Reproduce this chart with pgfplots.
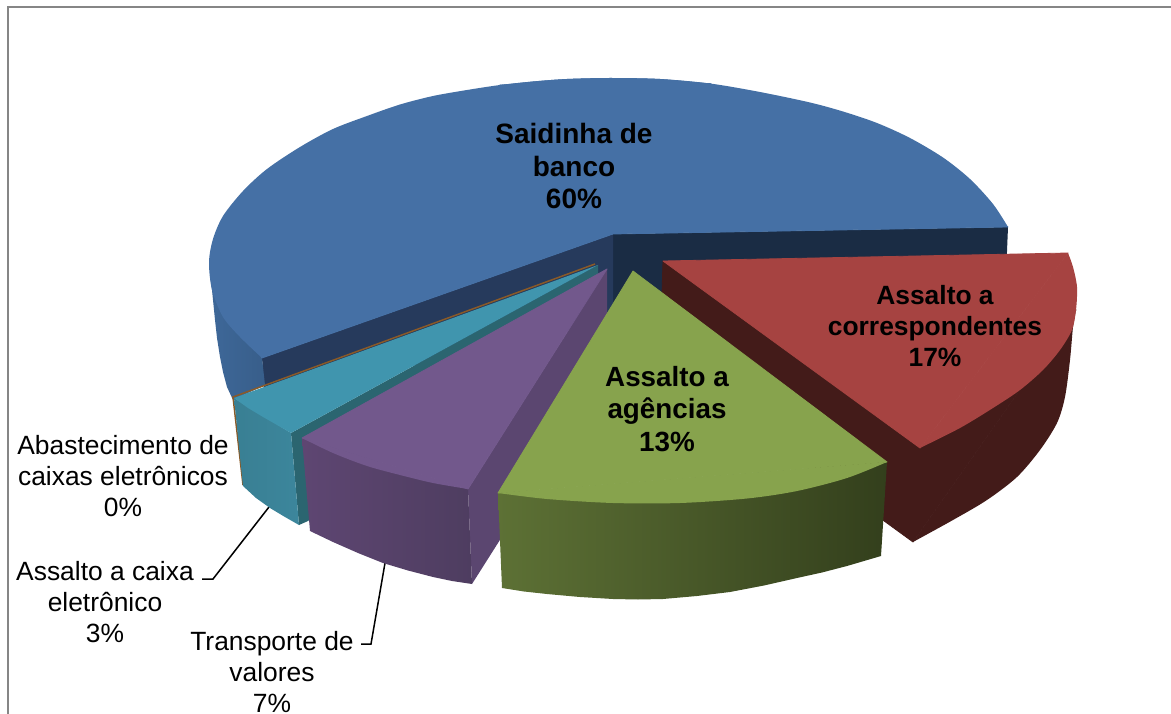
\documentclass[border=0pt]{standalone}
\usepackage{pgfplots}
\pgfplotsset{compat=1.18}
\usepackage{fontspec}
\setmainfont{Liberation Sans}
\definecolor{bluetop}{HTML}{4570A5}
\definecolor{bluedkR}{HTML}{1A2C44}
\definecolor{bluedkL}{HTML}{263A5C}
\definecolor{blueoutL}{HTML}{3E6899}
\definecolor{blueoutR}{HTML}{385E8A}
\definecolor{brownln}{HTML}{8A5A28}
\definecolor{tealtop}{HTML}{4095AE}
\definecolor{tealdk}{HTML}{2B6570}
\definecolor{tealoutL}{HTML}{397F93}
\definecolor{tealoutR}{HTML}{3C869C}
\definecolor{purptop}{HTML}{72588C}
\definecolor{purpdk}{HTML}{5B4670}
\definecolor{purpoutL}{HTML}{5E4672}
\definecolor{purpoutR}{HTML}{4E3D60}
\definecolor{greentop}{HTML}{87A34D}
\definecolor{greenoutL}{HTML}{5D7135}
\definecolor{greenoutR}{HTML}{333F1C}
\definecolor{redtop}{HTML}{A64341}
\definecolor{reddk}{HTML}{431B19}
\definecolor{framec}{HTML}{868686}
\newcommand{\lab}{\fontsize{26.4}{31.2}\selectfont}
\newcommand{\labA}{\fontsize{28}{32.2}\selectfont}
\newcommand{\labB}{\fontsize{27.8}{32.5}\selectfont}
\begin{document}
\begin{tikzpicture}[x=1pt,y=1pt]
\useasboundingbox (0,0) rectangle (1171,714);
\clip (0,0) rectangle (1171,714);
\begin{axis}[
  at={(0,0)},anchor=south west,
  scale only axis,width=1171pt,height=714pt,
  xmin=0,xmax=1171,ymin=0,ymax=714,y dir=reverse,
  hide axis,clip=true]
% frame
\addplot[framec,line width=2pt] coordinates {(8,714)(8,7)(1171,7)};
% leader lines
\addplot[black,line width=1.5pt] coordinates {(269,507)(213,579)(202,579)};
\addplot[black,line width=1.5pt] coordinates {(385,563)(371,644)(361,644)};
% blue slice, back faces
\addplot[fill=bluedkR,draw=none] coordinates {(613,234)(1008,227)(1005,300)(612,320)} --cycle;
\addplot[fill=bluedkL,draw=none] coordinates {(613,234)(262,358)(265,400)(613,320)} --cycle;
\addplot[left color=blueoutL,right color=blueoutR,draw=none] coordinates {(209,262)(262,358)(265,385)(233,400)(227,387)(223,372)(220,357)(217,338)(215,320)(212,290)} --cycle;
% blue top: two arcs and the inner polygon
\addplot[smooth,fill=bluetop,draw=none] coordinates {(262,358)(240,337)(223,317)(212,290)(209,262)(213,239)(223,216)(243,191)(267,169)(300,147)(333,129)(367,116)(400,104.5)(433,96)(467,90)(500,85)(533,81.5)(567,79)(610,78)(660,79)(710,83.5)} --cycle;
\addplot[smooth,fill=bluetop,draw=none] coordinates {(500,85)(533,81.5)(567,79)(610,78)(660,79)(710,83.5)(760,92)(810,102.5)(843,111.5)(877,123)(910,138)(943,157.5)(970,179)(993,204)(1008,227)} --cycle;
\addplot[fill=bluetop,draw=bluetop,line width=0.8pt,line join=round] coordinates {(613,234)(262,358)(500,85)(710,83.5)(1008,227)} --cycle;
% brown slice
\addplot[brownln,line width=1.5pt] coordinates {(243,485)(233,397)(595,264)};
% teal slice
\addplot[fill=tealdk,draw=none] coordinates {(291,433)(598,265)(598,280)(308,521)(299,525)} --cycle;
\addplot[left color=tealoutL,right color=tealoutR,draw=none] coordinates {(234,398)(291,433)(299,525)(285,517)(270,508)(256,498)(243,486)} --cycle;
\addplot[fill=tealtop,draw=none] coordinates {(598,265)(234,398)(248,408)(263,417)(277,425)(291,433)} --cycle;
% purple slice
\addplot[fill=purpdk,draw=none] coordinates {(607,269)(468,489)(472,584)(607,371)} --cycle;
\addplot[left color=purpoutL,right color=purpoutR,draw=none] coordinates {(302,438)(468,489)(472,584)(452,581)(433,577)(408,570.5)(383,563)(358,553)(333,542)(310,531)} --cycle;
\addplot[smooth,fill=purptop,draw=none] coordinates {(302,438)(333,453)(367,466)(400,475)(433,483)(468,489)} --cycle;
\addplot[fill=purptop,draw=purptop,line width=0.8pt,line join=round] coordinates {(607,269)(302,438)(468,489)} --cycle;
% red slice
\addplot[smooth,fill=reddk,draw=none] coordinates {(1076,310)(1073,327)(1070,360)(1065,397)(1057,423)(1040,450)(1017,477)(987,500)(953,520)(913,542)} --cycle;
\addplot[fill=reddk,draw=reddk,line width=0.8pt,line join=round] coordinates {(663,261)(920,448)(1076,310)(913,542)(660,358)} --cycle;
\addplot[smooth,fill=redtop,draw=none] coordinates {(1068,253)(1073,267)(1077,287)(1076,310)(1072,330)(1060,350)(1043,370)(1020,390)(993,408)(960,428)(920,448)} --cycle;
\addplot[fill=redtop,draw=redtop,line width=0.8pt,line join=round] coordinates {(663,261)(1068,253)(920,448)} --cycle;
% green slice
\addplot[left color=greenoutL,right color=greenoutR,draw=none] coordinates {(498,493)(887,462)(881,556)(864,561)(847,566)(822,572.5)(797,578)(764,585.5)(730,592)(697,596)(663,599)(638,599.5)(613,599)(580,597)(547,594)(524,591.5)(502,588)} --cycle;
\addplot[smooth,fill=greentop,draw=none] coordinates {(498,493)(547,499)(613,503)(680,503)(747,498.5)(797,491)(847,478)(887,462)} --cycle;
\addplot[fill=greentop,draw=greentop,line width=0.8pt,line join=round] coordinates {(633,271)(887,462)(498,493)} --cycle;
% labels
\node[align=center,font=\bfseries\labA] at (axis cs:574,166) {Saidinha de\\banco\\60\%};
\node[align=center,font=\bfseries\lab] at (axis cs:935,326) {Assalto a\\correspondentes\\17\%};
\node[align=center,font=\bfseries\labB] at (axis cs:667,409) {Assalto a\\agências\\13\%};
\node[align=center,font=\lab] at (axis cs:123,476) {Abastecimento de\\caixas eletrônicos\\0\%};
\node[align=center,font=\lab] at (axis cs:105,602) {Assalto a caixa\\eletrônico\\3\%};
\node[align=center,font=\lab] at (axis cs:272,672) {Transporte de\\valores\\7\%};
\end{axis}
\end{tikzpicture}
\end{document}
